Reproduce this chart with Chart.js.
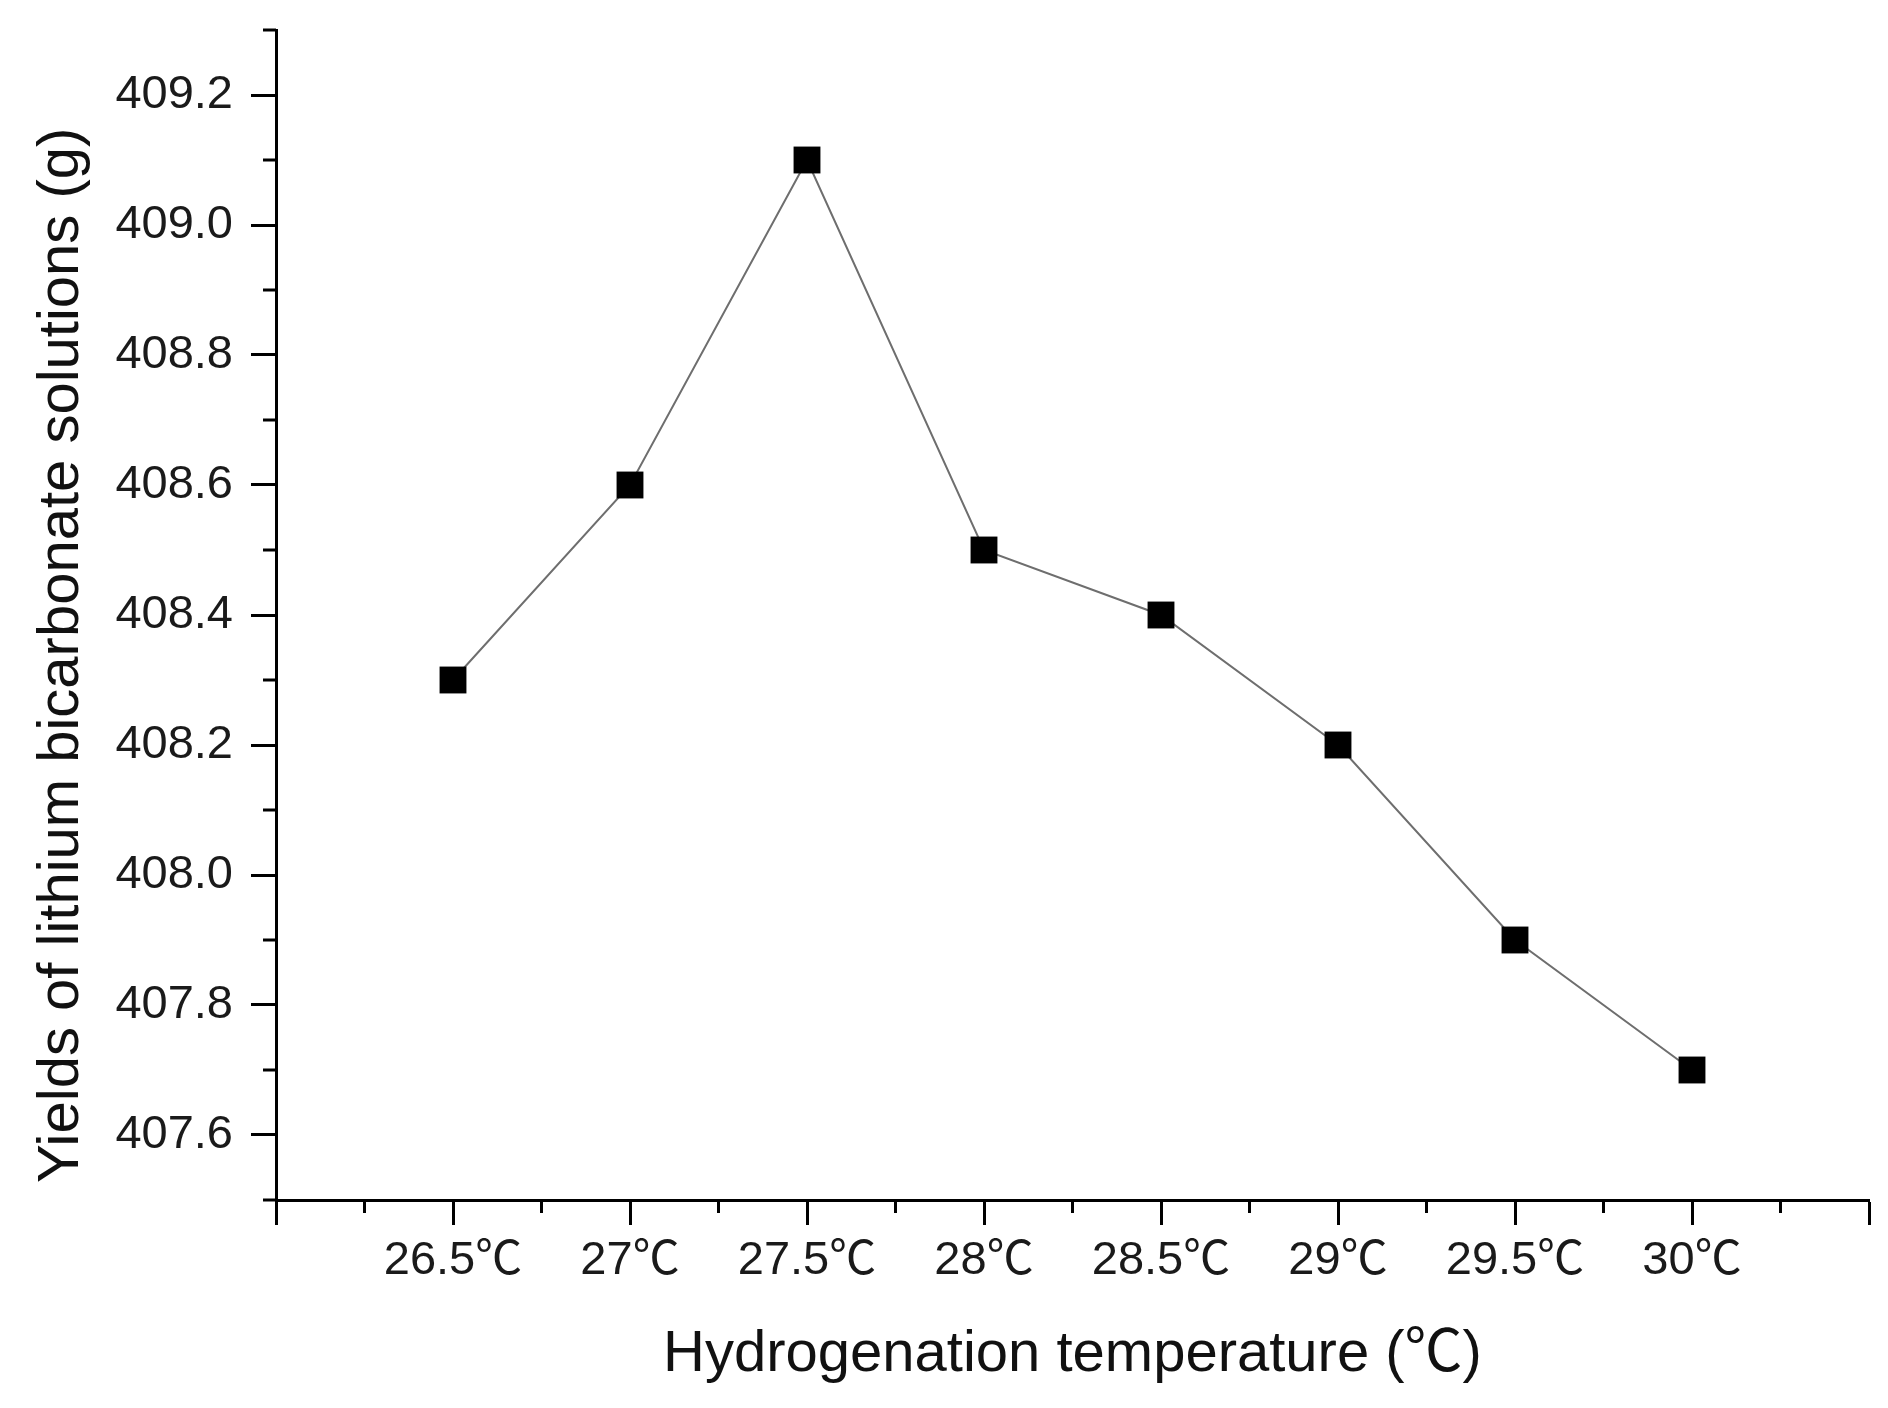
<!DOCTYPE html>
<html>
<head>
<meta charset="utf-8">
<script src="https://cdn.jsdelivr.net/npm/chart.js@4.4.1/dist/chart.umd.min.js"></script>
<style>
  html, body { margin: 0; padding: 0; background: #fff; }
  #chart { display: block; }
</style>
</head>
<body>
<canvas id="chart" width="1888" height="1408" style="width:1888px;height:1408px"></canvas>
<script>
// data
const temps = [26.5, 27, 27.5, 28, 28.5, 29, 29.5, 30];
const tempLabels = ["26.5℃", "27℃", "27.5℃", "28℃", "28.5℃", "29℃", "29.5℃", "30℃"];
const yields = [408.3, 408.6, 409.1, 408.5, 408.4, 408.2, 407.9, 407.7];

const FONT = "'Liberation Sans', Arial, 'Noto Sans CJK SC', sans-serif";

function isMinorX(v) {
  return Math.round(v * 4) % 2 === 1;
}
function isMinorY(v) {
  return Math.round(v * 10) % 2 === 1;
}

// short ticks between the labelled ones
const minorTicks = {
  id: "minorTicks",
  afterDraw(chart) {
    const ctx = chart.ctx;
    const xs = chart.scales.x;
    const ys = chart.scales.y;
    ctx.save();
    ctx.strokeStyle = "#000";
    ctx.lineWidth = 3;
    ctx.beginPath();
    xs.ticks.forEach((t) => {
      if (isMinorX(t.value)) {
        const px = xs.getPixelForValue(t.value);
        ctx.moveTo(px, xs.top);
        ctx.lineTo(px, xs.top + 13);
      }
    });
    ys.ticks.forEach((t) => {
      if (isMinorY(t.value)) {
        const py = ys.getPixelForValue(t.value);
        ctx.moveTo(ys.right, py);
        ctx.lineTo(ys.right - 13, py);
      }
    });
    ctx.stroke();
    ctx.restore();
  },
};

const points = temps.map((t, i) => ({ x: t, y: yields[i] }));

const config = {
  type: "line",
  data: {
    datasets: [
      {
        data: points,
        borderColor: "#6e6e6e",
        borderWidth: 2,
        pointStyle: "rect",
        pointRadius: 19,
        pointBackgroundColor: "#000",
        pointBorderWidth: 0,
        tension: 0,
        clip: false,
      },
    ],
  },
  options: {
    responsive: false,
    devicePixelRatio: 1,
    animation: false,
    layout: { padding: { top: 30, right: 19, left: 0, bottom: 0 } },
    plugins: {
      legend: { display: false },
      tooltip: { enabled: false },
    },
    scales: {
      x: {
        type: "linear",
        position: "bottom",
        min: 26,
        max: 30.5,
        afterFit: (scale) => {
          scale.height = 208;
          scale.paddingLeft = 0;
          scale.paddingRight = 0;
        },
        border: { display: true, color: "#000", width: 3 },
        grid: {
          drawOnChartArea: false,
          drawTicks: true,
          tickLength: 25,
          tickWidth: 3,
          tickColor: (c) => (c.tick && isMinorX(c.tick.value) ? "rgba(0,0,0,0)" : "#000"),
        },
        ticks: {
          stepSize: 0.25,
          autoSkip: false,
          maxRotation: 0,
          padding: 8,
          color: "#1a1a1a",
          font: { family: FONT, size: 47 },
          callback: (v) => {
            const i = temps.indexOf(Math.round(v * 100) / 100);
            return i >= 0 ? tempLabels[i] : "";
          },
        },
        title: {
          display: true,
          text: "Hydrogenation temperature (℃)",
          color: "#111",
          font: { family: FONT, size: 58 },
          padding: { top: 0, bottom: 18 },
        },
      },
      y: {
        type: "linear",
        position: "left",
        min: 407.5,
        max: 409.3,
        afterFit: (scale) => {
          scale.width = 276;
          scale.paddingTop = 0;
          scale.paddingBottom = 0;
        },
        border: { display: true, color: "#000", width: 3 },
        grid: {
          drawOnChartArea: false,
          drawTicks: true,
          tickLength: 25,
          tickWidth: 3,
          tickColor: (c) => (c.tick && isMinorY(c.tick.value) ? "rgba(0,0,0,0)" : "#000"),
        },
        ticks: {
          stepSize: 0.1,
          autoSkip: false,
          padding: 18,
          color: "#1a1a1a",
          font: { family: FONT, size: 47 },
          callback: (v) => (isMinorY(v) ? "" : v.toFixed(1)),
        },
        title: {
          display: true,
          // trailing spaces push the text a little lower, as in the figure
          text: "Yields of lithium bicarbonate solutions (g)\u00a0\u00a0\u00a0\u00a0\u00a0",
          color: "#111",
          font: { family: FONT, size: 58 },
          padding: { top: 27, bottom: 0 },
        },
      },
    },
  },
  plugins: [minorTicks],
};

new Chart(document.getElementById("chart"), config);
</script>
</body>
</html>
